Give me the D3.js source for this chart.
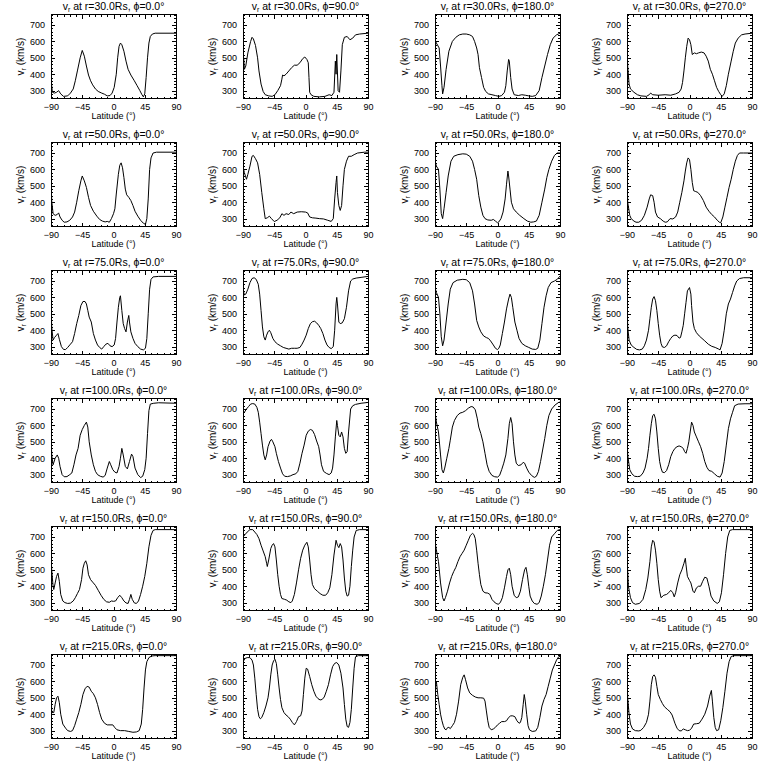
<!DOCTYPE html>
<html><head><meta charset="utf-8">
<script src="https://cdn.jsdelivr.net/npm/d3@7"></script>
<style>
body{margin:0;background:#fff}
text{font-family:"Liberation Sans",Arial,sans-serif;fill:#000}
</style>
</head><body>
<svg id="c" width="768" height="768" xmlns="http://www.w3.org/2000/svg"></svg>
<script>
// ---------- data ----------
const radii = [30, 50, 75, 100, 150, 215];
const phis = [0, 90, 180, 270];
const xTicks = [-90, -45, 0, 45, 90];
const yTicks = [300, 400, 500, 600, 700];
const xMinor = [-81,-72,-63,-54,-36,-27,-18,-9,9,18,27,36,54,63,72,81];
const yMinor = [260,280,320,340,360,380,420,440,460,480,520,540,560,580,620,640,660,680,720,740,760];

// [latitude, v_r] pairs
const v30_0 = [[-90,530],[-89.5,350],[-88,290],[-85,285],[-82,290],[-79,300],[-76,280],[-72,265],[-66,268],[-62,285],[-58,310],[-55,360],[-52,420],[-48,500],[-45,545],[-42,510],[-39,450],[-36,395],[-33,360],[-30,335],[-26,310],[-22,295],[-17,285],[-13,278],[-9,268],[-5,270],[-2,285],[1,320],[4,400],[6,500],[8,570],[10,590],[12,580],[15,540],[18,480],[21,430],[25,395],[30,360],[34,330],[38,300],[41,275],[43,262],[45,280],[47,380],[49,500],[51,590],[53,630],[56,645],[60,650],[90,650]];
const v30_90 = [[-90,580],[-89.5,470],[-89,500],[-88,430],[-86,450],[-83,530],[-79,600],[-77,625],[-75,615],[-72,575],[-69,500],[-67,420],[-64,340],[-61,295],[-58,275],[-53,268],[-48,265],[-44,275],[-40,300],[-36,330],[-34,370],[-33,395],[-31,390],[-28,400],[-24,420],[-20,440],[-16,455],[-12,455],[-8,470],[-4,495],[-1,505],[2,490],[4,470],[5,380],[6,290],[8,275],[12,265],[20,262],[28,265],[34,275],[38,270],[41,290],[43,480],[44,400],[45,520],[47,300],[49,290],[51,420],[53,580],[56,625],[60,630],[64,610],[68,620],[72,640],[78,645],[90,650]];
const v30_180 = [[-90,610],[-88,590],[-84,560],[-82,450],[-80,330],[-79,280],[-77,320],[-74,430],[-70,540],[-65,600],[-60,625],[-55,640],[-50,645],[-45,645],[-40,640],[-36,630],[-33,600],[-30,560],[-28,520],[-26,440],[-23,380],[-20,320],[-17,295],[-13,280],[-8,275],[-3,270],[2,265],[6,270],[10,290],[12,330],[14,420],[16,490],[17,480],[19,380],[21,310],[24,275],[30,270],[35,275],[40,272],[45,268],[50,265],[55,270],[60,300],[64,380],[68,450],[72,520],[76,580],[80,620],[85,640],[90,650]];
const v30_270 = [[-90,600],[-89,450],[-87,340],[-85,310],[-80,290],[-75,275],[-70,268],[-62,265],[-58,275],[-56,285],[-53,275],[-45,272],[-35,275],[-27,272],[-20,280],[-15,290],[-12,310],[-10,350],[-8,420],[-6,500],[-4,570],[-2,620],[0,610],[2,580],[4,520],[7,530],[10,525],[13,530],[17,535],[21,530],[24,510],[27,480],[30,430],[33,400],[36,360],[39,320],[42,295],[45,275],[47,265],[50,280],[53,330],[56,400],[60,480],[63,540],[66,590],[70,620],[75,640],[80,645],[90,650]];

const v50_0 = [[-90,550],[-89,410],[-87,330],[-84,320],[-81,325],[-79,335],[-77,310],[-74,290],[-71,278],[-67,280],[-63,290],[-59,310],[-56,340],[-53,400],[-50,470],[-47,530],[-45,560],[-42,530],[-39,490],[-36,430],[-33,380],[-29,345],[-24,315],[-20,295],[-16,285],[-12,280],[-9,283],[-6,278],[-3,300],[0,330],[2,360],[4,450],[7,570],[9,625],[11,640],[13,610],[15,550],[17,480],[19,445],[22,430],[25,410],[28,380],[31,345],[35,315],[39,290],[43,272],[46,265],[48,300],[50,420],[52,600],[54,670],[57,700],[62,705],[90,705]];
const v50_90 = [[-90,620],[-88,580],[-85,540],[-83,570],[-80,620],[-77,680],[-75,685],[-72,665],[-69,640],[-66,570],[-63,460],[-60,360],[-58,300],[-55,305],[-52,315],[-49,300],[-45,282],[-41,290],[-37,305],[-34,330],[-31,320],[-28,330],[-24,325],[-21,340],[-17,330],[-12,340],[-6,342],[0,340],[3,335],[6,310],[10,305],[15,303],[20,300],[26,298],[32,290],[37,283],[40,300],[42,420],[44,520],[45,560],[46,460],[48,380],[50,350],[52,380],[54,500],[56,600],[59,650],[62,680],[66,680],[70,690],[75,700],[85,705],[90,705]];
const v50_180 = [[-90,650],[-88,620],[-85,600],[-83,480],[-81,330],[-79,300],[-77,360],[-74,460],[-71,560],[-67,650],[-63,680],[-57,690],[-50,695],[-45,693],[-40,680],[-36,650],[-33,600],[-30,540],[-27,440],[-24,370],[-21,320],[-18,300],[-14,292],[-9,290],[-6,295],[-3,285],[0,275],[2,280],[5,300],[8,340],[11,420],[13,510],[15,590],[16,560],[18,480],[20,400],[23,360],[27,340],[32,320],[38,300],[43,285],[48,278],[52,280],[56,285],[60,320],[64,400],[68,480],[71,550],[74,600],[78,650],[82,685],[86,700],[90,700]];
const v50_270 = [[-90,580],[-89,400],[-86,320],[-84,300],[-80,285],[-77,278],[-73,278],[-69,290],[-65,320],[-61,370],[-58,420],[-56,445],[-53,440],[-51,400],[-49,340],[-46,310],[-42,300],[-38,285],[-35,278],[-32,280],[-28,300],[-24,298],[-20,310],[-17,340],[-14,400],[-11,460],[-8,530],[-6,590],[-4,640],[-2,670],[0,660],[2,600],[4,520],[6,470],[9,465],[12,460],[16,440],[20,410],[24,370],[28,345],[32,325],[36,310],[40,290],[43,278],[45,275],[48,310],[51,370],[54,430],[57,490],[60,540],[63,600],[66,650],[69,685],[72,700],[78,700],[90,700]];

const v75_0 = [[-90,560],[-89,420],[-87,340],[-85,355],[-82,370],[-80,380],[-78,345],[-75,300],[-72,283],[-69,282],[-66,295],[-62,315],[-59,330],[-56,380],[-53,440],[-50,490],[-47,550],[-44,575],[-41,575],[-39,560],[-37,520],[-35,480],[-32,450],[-29,380],[-26,340],[-23,310],[-20,295],[-17,285],[-14,300],[-11,315],[-8,320],[-5,305],[-2,300],[1,310],[3,350],[5,450],[7,540],[9,600],[10,610],[12,520],[14,440],[16,410],[18,390],[20,450],[22,490],[23,450],[25,390],[28,350],[31,320],[35,300],[39,285],[43,280],[46,290],[48,350],[50,500],[52,650],[54,710],[57,725],[65,728],[90,728]];
const v75_90 = [[-90,650],[-88,615],[-86,620],[-83,650],[-80,690],[-77,715],[-74,720],[-71,710],[-68,680],[-66,620],[-64,520],[-62,420],[-60,360],[-58,340],[-56,370],[-54,390],[-52,400],[-50,385],[-47,350],[-44,330],[-40,315],[-36,305],[-32,295],[-28,290],[-24,285],[-20,290],[-16,290],[-12,290],[-8,295],[-5,315],[-2,340],[1,370],[4,410],[7,440],[10,452],[13,455],[16,445],[19,430],[22,410],[25,380],[28,340],[31,310],[34,295],[37,288],[40,300],[42,400],[44,560],[45,600],[46,560],[48,450],[50,440],[53,445],[56,470],[59,540],[62,640],[65,700],[68,712],[73,718],[80,722],[90,728]];
const v75_180 = [[-90,660],[-88,630],[-85,600],[-83,500],[-81,360],[-79,305],[-77,340],[-74,450],[-71,560],[-68,650],[-64,690],[-58,705],[-50,710],[-45,708],[-40,690],[-36,640],[-33,560],[-30,460],[-27,420],[-24,390],[-20,365],[-16,355],[-13,350],[-10,335],[-6,310],[-3,290],[0,282],[2,290],[4,310],[7,380],[10,450],[13,530],[16,590],[18,620],[20,600],[22,540],[25,450],[28,400],[31,350],[35,320],[40,305],[45,295],[50,285],[55,283],[58,290],[61,340],[64,440],[67,540],[70,610],[73,660],[77,690],[82,700],[86,710],[90,730]];
const v75_270 = [[-90,600],[-89,420],[-87,340],[-84,310],[-80,295],[-76,283],[-72,280],[-68,285],[-65,305],[-62,340],[-59,400],[-57,470],[-55,540],[-53,590],[-51,605],[-49,580],[-47,520],[-45,440],[-43,370],[-41,320],[-39,298],[-36,295],[-33,305],[-30,330],[-27,350],[-24,365],[-21,370],[-18,368],[-15,352],[-13,355],[-11,390],[-9,430],[-7,500],[-5,570],[-3,640],[0,660],[2,620],[3,550],[5,450],[7,410],[10,385],[14,365],[18,350],[22,335],[27,315],[32,302],[37,295],[42,285],[44,280],[47,320],[50,400],[53,500],[56,560],[59,590],[62,630],[65,670],[68,700],[72,715],[78,720],[90,720]];

const v100_0 = [[-90,570],[-89,420],[-87,360],[-84,400],[-81,420],[-79,400],[-77,350],[-74,300],[-71,287],[-67,288],[-63,300],[-60,310],[-57,360],[-54,420],[-51,460],[-48,540],[-45,575],[-42,600],[-39,620],[-37,590],[-35,500],[-32,420],[-29,360],[-26,320],[-23,300],[-19,290],[-15,285],[-12,295],[-9,340],[-6,380],[-4,360],[-1,330],[2,315],[5,310],[8,350],[10,400],[12,460],[14,420],[17,350],[20,335],[23,380],[26,425],[28,410],[31,340],[35,300],[39,282],[42,290],[45,330],[47,400],[49,550],[51,690],[53,730],[58,735],[65,738],[90,735]];
const v100_90 = [[-90,670],[-88,680],[-85,700],[-82,715],[-79,730],[-76,733],[-73,730],[-70,710],[-68,680],[-66,620],[-64,550],[-62,480],[-60,420],[-58,390],[-56,420],[-54,470],[-51,505],[-49,515],[-47,500],[-44,470],[-42,430],[-39,380],[-36,340],[-33,305],[-30,290],[-26,288],[-22,292],[-18,300],[-14,305],[-11,320],[-8,370],[-5,430],[-2,480],[1,540],[4,565],[7,575],[10,570],[13,545],[16,505],[19,470],[21,420],[23,360],[26,320],[30,308],[34,300],[37,310],[39,340],[41,420],[43,530],[45,630],[46,600],[48,540],[50,530],[52,560],[54,530],[56,460],[58,430],[60,440],[62,560],[65,700],[68,720],[72,728],[80,735],[90,740]];
const v100_180 = [[-90,680],[-88,620],[-85,560],[-82,420],[-80,330],[-78,310],[-76,340],[-73,400],[-70,460],[-68,510],[-65,590],[-62,630],[-58,660],[-54,675],[-50,680],[-46,690],[-42,705],[-38,715],[-35,712],[-32,695],[-29,640],[-27,590],[-24,550],[-21,500],[-18,430],[-15,360],[-12,320],[-8,295],[-4,287],[0,285],[3,295],[6,330],[9,370],[12,420],[15,520],[17,610],[19,648],[21,610],[23,500],[25,420],[27,370],[30,355],[34,360],[37,375],[39,370],[42,340],[45,315],[49,295],[53,283],[56,290],[59,320],[62,380],[65,450],[68,520],[71,600],[74,660],[78,700],[83,725],[88,740],[90,742]];
const v100_270 = [[-90,560],[-89,420],[-86,330],[-83,305],[-79,290],[-75,288],[-71,290],[-67,310],[-64,340],[-61,400],[-59,460],[-57,540],[-55,610],[-53,660],[-51,668],[-49,640],[-47,560],[-45,460],[-43,380],[-41,340],[-39,315],[-36,312],[-33,325],[-30,360],[-27,410],[-24,440],[-21,460],[-18,470],[-15,475],[-12,470],[-9,460],[-7,440],[-5,430],[-3,460],[-1,500],[1,560],[3,620],[5,600],[7,560],[10,530],[13,500],[16,470],[19,430],[22,380],[25,345],[28,325],[32,320],[36,305],[40,290],[44,285],[47,310],[50,380],[53,480],[56,580],[59,640],[62,680],[65,720],[70,730],[80,732],[90,732]];

const v150_0 = [[-90,600],[-89,500],[-87,400],[-86,380],[-84,420],[-82,460],[-80,480],[-78,430],[-76,350],[-73,310],[-70,300],[-66,295],[-62,297],[-58,310],[-55,330],[-52,355],[-49,380],[-46,440],[-44,510],[-42,540],[-40,555],[-38,530],[-36,470],[-33,440],[-30,425],[-26,405],[-22,375],[-18,345],[-14,320],[-10,305],[-6,302],[-3,310],[0,308],[3,310],[6,330],[9,345],[12,330],[15,310],[18,298],[21,295],[23,320],[25,350],[27,320],[30,298],[33,295],[36,310],[39,350],[42,400],[45,460],[48,540],[51,640],[54,710],[57,740],[60,745],[90,745]];
const v150_90 = [[-90,700],[-87,715],[-84,730],[-80,745],[-76,745],[-73,730],[-70,715],[-67,690],[-64,650],[-61,615],[-58,580],[-56,540],[-55,520],[-53,560],[-50,630],[-48,650],[-46,660],[-44,640],[-42,560],[-40,470],[-38,400],[-36,350],[-34,325],[-30,320],[-27,315],[-24,305],[-21,300],[-19,310],[-16,350],[-13,420],[-10,500],[-7,570],[-4,620],[-1,650],[2,668],[4,640],[6,560],[8,470],[10,410],[13,385],[17,370],[21,355],[25,345],[29,345],[32,360],[35,390],[38,470],[41,590],[44,680],[46,650],[48,635],[50,660],[52,640],[54,560],[56,450],[58,370],[60,340],[62,345],[64,400],[66,520],[68,620],[70,700],[73,740],[78,745],[90,745]];
const v150_180 = [[-90,670],[-88,620],[-85,550],[-82,420],[-79,330],[-77,310],[-75,330],[-72,370],[-69,420],[-66,460],[-63,490],[-60,515],[-57,550],[-54,580],[-51,600],[-48,620],[-45,650],[-42,680],[-39,710],[-36,722],[-34,715],[-32,690],[-30,620],[-28,540],[-26,470],[-24,410],[-21,370],[-18,360],[-14,358],[-11,350],[-8,320],[-5,305],[-2,295],[1,290],[4,300],[7,330],[10,390],[13,460],[15,500],[17,510],[19,470],[21,400],[24,345],[27,330],[30,335],[33,370],[36,440],[39,500],[41,515],[43,470],[45,400],[47,340],[50,310],[53,295],[57,290],[60,300],[63,340],[66,400],[69,470],[72,560],[75,650],[78,700],[82,720],[86,740],[90,745]];
const v150_270 = [[-90,580],[-88,400],[-85,330],[-82,300],[-78,290],[-72,295],[-67,320],[-63,380],[-60,450],[-57,550],[-55,640],[-53,680],[-51,670],[-49,620],[-47,540],[-45,440],[-43,370],[-41,330],[-37,345],[-33,350],[-30,360],[-27,375],[-24,360],[-22,335],[-20,360],[-17,420],[-14,470],[-11,500],[-8,540],[-6,570],[-5,530],[-3,460],[0,435],[2,420],[5,370],[7,360],[10,390],[13,400],[16,400],[19,430],[22,455],[25,450],[28,400],[31,340],[35,310],[40,295],[43,305],[46,360],[49,470],[52,600],[55,700],[58,740],[62,745],[90,745]];

const v215_0 = [[-90,590],[-89,410],[-86,410],[-84,460],[-82,500],[-80,510],[-78,470],[-76,400],[-73,340],[-69,315],[-66,300],[-62,295],[-59,300],[-56,330],[-53,370],[-50,410],[-47,460],[-44,520],[-41,555],[-38,570],[-35,565],[-32,540],[-29,525],[-26,500],[-23,460],[-20,410],[-17,370],[-13,345],[-9,335],[-5,335],[-1,335],[2,318],[5,305],[10,300],[16,300],[22,295],[28,290],[33,292],[37,300],[40,340],[42,430],[44,560],[46,670],[48,720],[51,745],[55,755],[60,757],[90,757]];
const v215_90 = [[-90,720],[-87,740],[-84,745],[-80,745],[-77,730],[-75,700],[-73,620],[-71,520],[-69,430],[-67,385],[-65,372],[-63,380],[-60,410],[-57,450],[-54,500],[-52,560],[-50,640],[-48,700],[-46,725],[-44,735],[-42,710],[-40,640],[-38,560],[-36,490],[-34,440],[-31,410],[-28,395],[-25,385],[-22,370],[-19,350],[-16,335],[-13,355],[-10,385],[-7,390],[-5,420],[-3,520],[-1,620],[1,680],[3,675],[6,630],[9,580],[12,540],[15,510],[18,495],[21,487],[24,490],[27,505],[30,540],[33,580],[36,640],[39,690],[42,710],[45,715],[48,700],[51,650],[54,560],[56,460],[58,370],[60,325],[62,320],[64,350],[66,430],[68,560],[70,680],[72,750],[76,757],[90,757]];
const v215_180 = [[-90,650],[-89,580],[-88,600],[-86,520],[-84,460],[-82,400],[-80,360],[-78,330],[-76,310],[-74,305],[-72,318],[-70,320],[-68,312],[-65,330],[-62,350],[-59,400],[-56,480],[-53,580],[-50,625],[-48,640],[-46,610],[-43,560],[-40,530],[-36,515],[-32,505],[-28,500],[-24,500],[-20,498],[-18,480],[-16,420],[-14,360],[-12,320],[-9,305],[-6,310],[-3,320],[0,335],[3,345],[6,355],[10,355],[13,360],[16,380],[19,390],[22,390],[25,385],[28,360],[31,345],[33,350],[35,380],[37,460],[38.5,520],[40,480],[42,400],[44,330],[46,305],[50,295],[55,298],[58,320],[61,380],[64,450],[67,490],[70,520],[73,570],[76,620],[79,670],[82,700],[85,730],[88,750],[90,752]];
const v215_270 = [[-90,630],[-89,500],[-87,400],[-85,340],[-82,310],[-78,300],[-73,298],[-70,302],[-66,320],[-62,350],[-59,400],[-57,480],[-55,580],[-53,630],[-51,640],[-49,625],[-47,570],[-45,520],[-42,490],[-39,465],[-36,445],[-32,430],[-28,415],[-25,395],[-23,370],[-21,345],[-18,315],[-15,300],[-12,298],[-9,310],[-6,305],[-3,300],[0,302],[3,315],[6,340],[10,342],[14,345],[18,370],[22,400],[26,450],[29,510],[31.5,545],[33,480],[35,380],[37,320],[39,300],[42,305],[45,360],[48,440],[51,540],[54,650],[57,720],[60,752],[64,757],[90,757]];

const series = [
  [v30_0, v30_90, v30_180, v30_270],
  [v50_0, v50_90, v50_180, v50_270],
  [v75_0, v75_90, v75_180, v75_270],
  [v100_0, v100_90, v100_180, v100_270],
  [v150_0, v150_90, v150_180, v150_270],
  [v215_0, v215_90, v215_180, v215_270]
];

// ---------- layout ----------
const cellW = 192, cellH = 128;
const L = 51, R = 176, T = 14.5, B = 98.5;
const x = d3.scaleLinear().domain([-90, 90]).range([L, R]);
const y = d3.scaleLinear().domain([252, 764]).range([B, T]);
const line = d3.line().x(d => x(d[0])).y(d => y(d[1]));

const svg = d3.select("#c");
svg.append("rect").attr("width", 768).attr("height", 768).attr("fill", "#fff");
svg.append("defs").append("clipPath").attr("id", "clip")
  .append("rect").attr("x", L).attr("y", T).attr("width", R - L).attr("height", B - T);

radii.forEach((r, ri) => {
  phis.forEach((p, pi) => {
    const g = svg.append("g").attr("transform", `translate(${pi * cellW},${ri * cellH})`);

    const styleAxis = sel => {
      sel.select(".domain").remove();
      sel.selectAll("line").attr("stroke", "#000").attr("shape-rendering", "crispEdges");
      sel.selectAll("text").attr("font-family", null).attr("font-size", 9).attr("fill", "#000");
    };

    // major ticks with labels
    g.append("g").attr("transform", `translate(0,${B})`)
      .call(d3.axisBottom(x).tickValues(xTicks).tickSize(-4).tickPadding(5))
      .call(styleAxis);
    g.append("g").attr("transform", `translate(0,${T})`)
      .call(d3.axisTop(x).tickValues(xTicks).tickSize(-4).tickFormat(""))
      .call(styleAxis);
    g.append("g").attr("transform", `translate(${L},0)`)
      .call(d3.axisLeft(y).tickValues(yTicks).tickSize(-4).tickPadding(6))
      .call(styleAxis);
    g.append("g").attr("transform", `translate(${R},0)`)
      .call(d3.axisRight(y).tickValues(yTicks).tickSize(-4).tickFormat(""))
      .call(styleAxis);
    // minor ticks
    g.append("g").attr("transform", `translate(0,${B})`)
      .call(d3.axisBottom(x).tickValues(xMinor).tickSize(-2).tickFormat(""))
      .call(styleAxis);
    g.append("g").attr("transform", `translate(0,${T})`)
      .call(d3.axisTop(x).tickValues(xMinor).tickSize(-2).tickFormat(""))
      .call(styleAxis);
    g.append("g").attr("transform", `translate(${L},0)`)
      .call(d3.axisLeft(y).tickValues(yMinor).tickSize(-2).tickFormat(""))
      .call(styleAxis);
    g.append("g").attr("transform", `translate(${R},0)`)
      .call(d3.axisRight(y).tickValues(yMinor).tickSize(-2).tickFormat(""))
      .call(styleAxis);

    // box
    g.append("rect").attr("x", L).attr("y", T).attr("width", R - L).attr("height", B - T)
      .attr("fill", "none").attr("stroke", "#000").attr("stroke-width", 1)
      .attr("shape-rendering", "crispEdges");

    // curve
    g.append("path").datum(series[ri][pi])
      .attr("d", line).attr("fill", "none").attr("stroke", "#000")
      .attr("stroke-width", 1).attr("clip-path", "url(#clip)");

    // title
    const t = g.append("text").attr("x", (L + R) / 2).attr("y", 9.5)
      .attr("text-anchor", "middle").attr("font-size", 10.5);
    t.append("tspan").text("v");
    t.append("tspan").attr("font-size", 7).attr("dy", 2).text("r");
    t.append("tspan").attr("dy", -2).text(` at r=${r.toFixed(1)}Rs, \u03D5=${p.toFixed(1)}\u00B0`);

    // x label
    g.append("text").attr("x", (L + R) / 2).attr("y", 118.5)
      .attr("text-anchor", "middle").attr("font-size", 9).text("Latitude (\u00B0)");

    // y label
    const yl = g.append("text").attr("transform", `translate(23.5,${(T + B) / 2}) rotate(-90)`)
      .attr("text-anchor", "middle").attr("font-size", 10);
    yl.append("tspan").text("v");
    yl.append("tspan").attr("font-size", 7).attr("dy", 2).text("r");
    yl.append("tspan").attr("dy", -2).text(" (km/s)");
  });
});
</script>
</body></html>
